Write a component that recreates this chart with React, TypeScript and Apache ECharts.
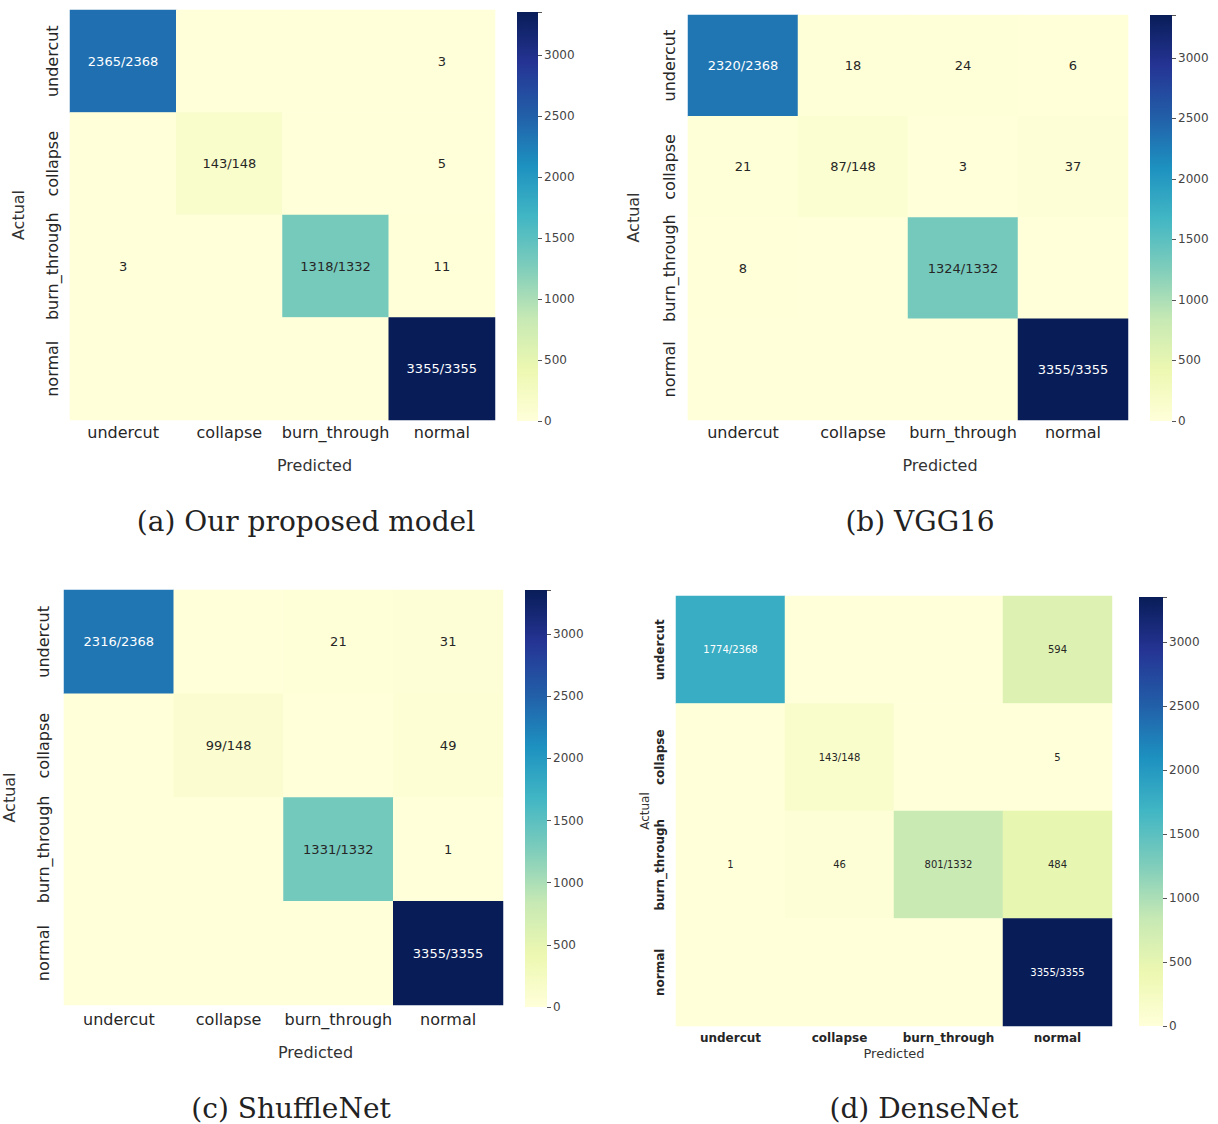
import React, { useEffect, useRef } from 'react';
import * as echarts from 'echarts';

const classes = ['undercut', 'collapse', 'burn_through', 'normal'];
const colorbarTicks = [0, 500, 1000, 1500, 2000, 2500, 3000];
const colorMax = 3355;

const proposedModel = [
  [2365, 0, 0, 3],
  [0, 143, 0, 5],
  [3, 0, 1318, 11],
  [0, 0, 0, 3355],
];
const vgg16 = [
  [2320, 18, 24, 6],
  [21, 87, 3, 37],
  [8, 0, 1324, 0],
  [0, 0, 0, 3355],
];
const shuffleNet = [
  [2316, 0, 21, 31],
  [0, 99, 0, 49],
  [0, 0, 1331, 1],
  [0, 0, 0, 3355],
];
const denseNet = [
  [1774, 0, 0, 594],
  [0, 143, 0, 5],
  [1, 46, 801, 484],
  [0, 0, 0, 3355],
];

const captions = ['(a) Our proposed model', '(b) VGG16', '(c) ShuffleNet', '(d) DenseNet'];

const ylgnbu = ['#ffffd9', '#edf8b1', '#c7e9b4', '#7fcdbb', '#41b6c4', '#1d91c0', '#225ea8', '#253494', '#081d58'];
const SANS = '"DejaVu Sans", sans-serif';
const SERIF = '"DejaVu Serif", serif';

const panels = [
  {
    matrix: proposedModel, caption: captions[0],
    grid: { left: 70, top: 10, width: 425, height: 410 },
    bar: { left: 517, top: 12, width: 21, height: 409 },
    capX: 306, capY: 521, dense: false,
    xLabelMargin: 4, yLabelMargin: 10, xNameGap: 37, yNameGap: 44, nameShift: 64,
  },
  {
    matrix: vgg16, caption: captions[1],
    grid: { left: 688, top: 15, width: 440, height: 405 },
    bar: { left: 1150, top: 15, width: 22, height: 406 },
    capX: 920, capY: 521, dense: false,
    xLabelMargin: 4, yLabelMargin: 11, xNameGap: 37, yNameGap: 47, nameShift: 64,
  },
  {
    matrix: shuffleNet, caption: captions[2],
    grid: { left: 64, top: 590, width: 439, height: 415 },
    bar: { left: 525, top: 590, width: 22, height: 417 },
    capX: 291, capY: 1108, dense: false,
    xLabelMargin: 6, yLabelMargin: 13, xNameGap: 39, yNameGap: 47, nameShift: 64,
  },
  {
    matrix: denseNet, caption: captions[3],
    grid: { left: 676, top: 596, width: 436, height: 430 },
    bar: { left: 1139, top: 597, width: 24, height: 429 },
    capX: 924, capY: 1108, dense: true,
    xLabelMargin: 6, yLabelMargin: 10, xNameGap: 21, yNameGap: 25, nameShift: 0,
  },
];

function buildOption() {
  const grid: any[] = [];
  const xAxis: any[] = [];
  const yAxis: any[] = [];
  const series: any[] = [];
  const visualMap: any[] = [];
  const graphic: any[] = [];

  const gradientStops = ylgnbu.map((c, k) => ({ offset: k / (ylgnbu.length - 1), color: c }));

  panels.forEach((p, i) => {
    const hg = 2 * i;
    const bg = 2 * i + 1;
    grid.push({ ...p.grid });
    grid.push({ left: p.bar.left, top: p.bar.top, width: p.bar.width, height: p.bar.height });

    const labelFont = {
      fontFamily: SANS,
      fontSize: p.dense ? 12 : 16,
      fontWeight: p.dense ? 'bold' : 'normal',
      color: '#262626',
    };
    const nameFont = {
      fontFamily: SANS,
      fontSize: p.dense ? 13 : 16,
      color: '#333',
    };

    xAxis.push({
      type: 'category', gridIndex: hg, data: classes, position: 'bottom',
      axisLine: { show: false }, axisTick: { show: false }, splitLine: { show: false },
      axisLabel: { ...labelFont, margin: p.xLabelMargin, interval: 0 },
      name: 'Predicted', nameLocation: 'middle', nameGap: p.xNameGap,
      nameTextStyle: { ...nameFont, padding: [0, 0, 0, p.nameShift] },
    });
    yAxis.push({
      type: 'category', gridIndex: hg, data: classes, inverse: true,
      axisLine: { show: false }, axisTick: { show: false }, splitLine: { show: false },
      axisLabel: { ...labelFont, rotate: 90, margin: p.yLabelMargin, interval: 0 },
      name: 'Actual', nameLocation: 'middle', nameGap: p.yNameGap,
      nameTextStyle: { ...nameFont, fontSize: p.dense ? 12 : 16 },
    });

    // colorbar axes
    xAxis.push({ type: 'category', gridIndex: bg, show: false, data: [''] });
    yAxis.push({
      type: 'value', gridIndex: bg, position: 'right', min: 0, max: colorMax, interval: 500,
      axisLine: { show: false }, splitLine: { show: false },
      axisTick: { show: true, inside: false, length: 4, lineStyle: { color: '#555', width: 1 } },
      axisLabel: {
        fontSize: 12, color: '#444', margin: 6, fontFamily: SANS,
        formatter: (v: number) => (colorbarTicks.indexOf(v) >= 0 ? String(v) : ''),
      },
    });

    const rowSums = p.matrix.map((row) => row.reduce((a, b) => a + b, 0));
    const data: any[] = [];
    p.matrix.forEach((row, r) => {
      row.forEach((v, c) => {
        data.push({
          value: [c, r, v],
          label: { color: v / colorMax > 0.5 ? '#ffffff' : '#262626' },
        });
      });
    });

    series.push({
      type: 'heatmap', xAxisIndex: hg, yAxisIndex: hg, data,
      itemStyle: { borderWidth: 0 },
      emphasis: { disabled: true },
      label: {
        show: true,
        fontFamily: SANS,
        fontSize: p.dense ? 10 : 13,
        formatter: (prm: any) => {
          const [c, r, v] = prm.value;
          if (c === r) return v + '/' + rowSums[r];
          return v ? String(v) : '';
        },
      },
    });

    visualMap.push({
      type: 'continuous', seriesIndex: i, min: 0, max: colorMax,
      inRange: { color: ylgnbu }, show: false,
    });

    graphic.push({
      type: 'text', x: p.capX, y: p.capY,
      style: {
        text: p.caption, fontSize: 28, fontFamily: SERIF, fill: '#222',
        align: 'center', verticalAlign: 'middle',
      },
    });
  });

  // colorbar bars (one per panel), drawn as full-range bars with the colormap gradient
  panels.forEach((p, i) => {
    const bg = 2 * i + 1;
    series.push({
      type: 'bar', xAxisIndex: bg, yAxisIndex: bg, data: [colorMax],
      barWidth: '100%', silent: true,
      itemStyle: {
        color: { type: 'linear', x: 0, y: 1, x2: 0, y2: 0, colorStops: gradientStops },
      },
    });
  });

  return { animation: false, backgroundColor: '#ffffff', grid, xAxis, yAxis, series, visualMap, graphic };
}

export default function App() {
  const ref = useRef<HTMLDivElement>(null);
  useEffect(() => {
    const chart = echarts.init(ref.current!, null, { renderer: 'svg' });
    chart.setOption(buildOption() as any);
    return () => chart.dispose();
  }, []);
  return (
    <div
      ref={ref}
      style={{ position: 'absolute', left: 0, top: 0, width: 1218, height: 1124, background: '#fff' }}
    />
  );
}
